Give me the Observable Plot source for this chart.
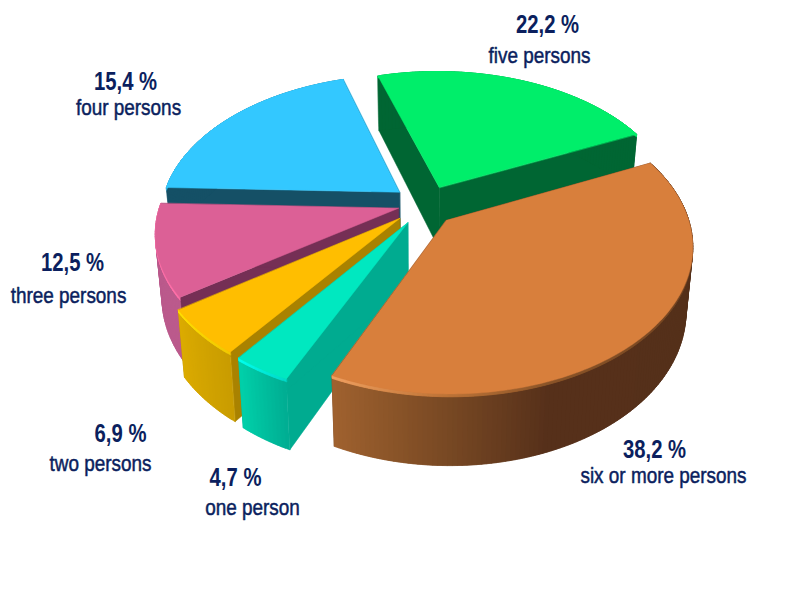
<!DOCTYPE html>
<html>
<head>
<meta charset="utf-8">
<style>html,body{margin:0;padding:0;background:#fff}svg{display:block}</style>
<script src="https://cdn.jsdelivr.net/npm/d3@7"></script>
<script src="https://cdn.jsdelivr.net/npm/@observablehq/plot@0.6"></script>
</head>
<body>
<script>
// Data, clockwise from the pie's start angle
const categories = ["six or more persons","one person","two persons","three persons","four persons","five persons"];
const values = [38.2,4.7,6.9,12.5,15.4,22.2];
const valueLabels = ["38,2 %","4,7 %","6,9 %","12,5 %","15,4 %","22,2 %"];
// Wedge sizes as drawn in the picture, in degrees (they differ from the printed percentages)
const drawnSweeps = [139.5,12,18.5,37,71,82];

// Styling
const topColors = ["#d87f3c","#00e8c0","#ffbe00","#dc6096","#33c8ff","#00ee6a"];
const sideColors = ["#54301a","#00ab90","#a98200","#752f55","#155066","#006633"];
const wallColors = [
  ["#54301a","#56301a","#7a4a24","#a0622f"],
  ["#00ad92","#00d0aa"],
  ["#c89c00","#dcab00"],
  ["#bb5a8c","#bb5a8c"],
  ["#155066","#155066"],
  ["#006633","#006633"]
];
const rimColors = [
  ["#54301a","#8a5428","#c07538","#f0a060"],
  ["#00d8c8","#00ffee"],
  ["#f0c800","#ffe000"],
  ["#ff70a8","#ff70a8"],
  ["#33c8ff","#33c8ff"],
  ["#00ee6a","#00ee6a"]
];
const pulls = [0.13,0.125,0.125,0.105,0.15,0.16];
const drawOrder = [5,4,3,2,1,0];
const startAngle = -25, persp = 0.162, depthPx = 62, depthPow = 0.75;
const Rx = 239, Ry = 140.8, ox = 423, oy = 207;

// Label layout (pixel centres)
const valueAt = [[654,449],[235,477],[120,433],[72,262],[125,81],[547,24]];
const nameAt = [[663,475],[252,507],[100,463],[68,295],[128,107],[539,55]];

const rad = d => d * Math.PI / 180;
const total = d3.sum(values);
let acc = startAngle, accV = startAngle;
const slices = values.map((v, i) => {
  const a0 = acc, a1 = acc + drawnSweeps[i]; acc = a1;
  // the pull-out direction follows the printed share
  const mid = rad(accV + v / total * 180); accV += v / total * 360;
  return {i, a0, a1, ex: pulls[i] * Math.cos(mid), ey: pulls[i] * Math.sin(mid)};
});
function proj(u, v, depth = 0) {
  const s = 1 / (1 - persp * v);
  return {x: u * s * (1 - 0.025 * depth / depthPx),
          y: v * s + depth * Math.pow(s, depthPow) / Ry};
}
const rows = [];
function poly(id, pts, c) { pts.forEach(p => rows.push({id, x: p.x, y: p.y, c})); }

for (const k of drawOrder) {
  const sl = slices[k];
  const P = (a, r, d = 0) => proj(sl.ex + r * Math.cos(rad(a)), sl.ey + r * Math.sin(rad(a)), d);
  for (const [n, a] of [["s", sl.a0], ["e", sl.a1]]) {
    poly(`${k}-r${n}`, [P(a,0), P(a,1), P(a,1,depthPx), P(a,0,depthPx)], sideColors[k]);
  }
  const n = Math.ceil(sl.a1 - sl.a0);
  const stops = wallColors[k];
  const dom = stops.length === 4 ? [sl.a0, 70, 92, sl.a1] : [sl.a0, sl.a1];
  const wall = d3.scaleLinear().domain(dom).range(stops);
  const rim = d3.scaleLinear().domain(dom).range(rimColors[k]);
  const step = (sl.a1 - sl.a0) / n;
  // each strip runs under the next one, so no seams show between them
  for (let j = 0; j < n; j++) {
    const a = sl.a0 + step * j, b = Math.min(sl.a1, a + step * 2), m = a + step / 2;
    poly(`${k}-w${j}`, [P(a,1), P(b,1), P(b,1,depthPx), P(a,1,depthPx)], wall(m));
  }
  for (let j = 0; j < n; j++) {
    const a = sl.a0 + step * j, b = Math.min(sl.a1, a + step * 2), m = a + step / 2;
    poly(`${k}-h${j}`, [P(a,1), P(b,1), P(b,1,2.5), P(a,1,2.5)], rim(m));
  }
  const top = [P(sl.a0, 0)];
  for (let j = 0; j <= n; j++) top.push(P(sl.a0 + step * j, 1));
  poly(`${k}-t`, top, topColors[k]);
}

const labelFont = "'Liberation Sans',Arial,sans-serif";
const toX = px => (px - ox) / Rx, toY = py => (py - oy) / Ry;
const plot = Plot.plot({
  width: 800, height: 600,
  margin: 0,
  x: {domain: [toX(0), toX(800)], range: [0, 800], axis: null},
  y: {domain: [toY(0), toY(600)], range: [0, 600], axis: null},
  color: {type: "identity"},
  style: {background: "#fff"},
  marks: [
    Plot.line(rows, {x: "x", y: "y", z: "id", fill: d => d.c, stroke: d => d.c, strokeWidth: 0.5, curve: "linear-closed"}),
    Plot.text(slices, {x: d => toX(valueAt[d.i][0]), y: d => toY(valueAt[d.i][1]), text: d => valueLabels[d.i],
      fontSize: 26, fontWeight: "bold", fontFamily: labelFont, fill: "#0b1f5e", textAnchor: "middle", lineAnchor: "middle", className: "val"}),
    Plot.text(slices, {x: d => toX(nameAt[d.i][0]), y: d => toY(nameAt[d.i][1]), text: d => categories[d.i],
      fontSize: 22, fontWeight: "normal", fontFamily: labelFont, fill: "#0b1f5e", stroke: "#0b1f5e", strokeWidth: 0.5, textAnchor: "middle", lineAnchor: "middle", className: "nam"})
  ]
});
document.body.appendChild(plot);
// The reference's type is squeezed horizontally; keep real text and condense the glyphs
const squeeze = (sel, f) => plot.querySelectorAll(sel).forEach(t => {
  t.setAttribute("lengthAdjust", "spacingAndGlyphs");
  t.setAttribute("textLength", (t.getComputedTextLength() * f).toFixed(1));
});
squeeze(".val text", 0.78);
squeeze(".nam text", 0.86);
</script>
</body>
</html>
